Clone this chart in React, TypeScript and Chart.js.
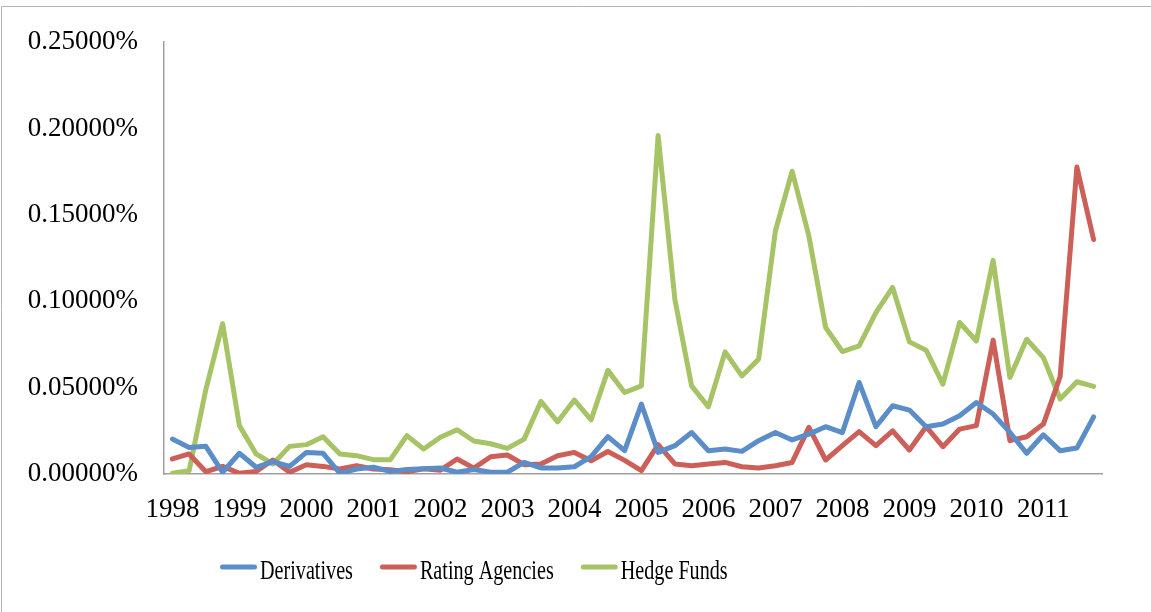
import React, { useEffect, useRef } from "react";
import { Chart, registerables } from "chart.js";

Chart.register(...registerables);

// Year tick labels; each year holds four quarterly observations.
const yearLabels = [
  "1998", "1999", "2000", "2001", "2002", "2003", "2004",
  "2005", "2006", "2007", "2008", "2009", "2010", "2011",
];

const quarterCategories = yearLabels.flatMap((y) => [`${y} Q1`, `${y} Q2`, `${y} Q3`, `${y} Q4`]);

// Share of coverage, in percent.
const derivatives = [
  0.0202, 0.0154, 0.016, 0.001, 0.012, 0.0039, 0.0071, 0.0044,
  0.0125, 0.012, 0.0004, 0.0029, 0.0039, 0.0015, 0.0026, 0.003,
  0.0035, 0.001, 0.0026, 0.001, 0.001, 0.0067, 0.0035, 0.0035,
  0.0042, 0.01, 0.0216, 0.0135, 0.0405, 0.0125, 0.0164, 0.024,
  0.0135, 0.0145, 0.0131, 0.0193, 0.024, 0.0197, 0.0231, 0.0274,
  0.024, 0.053, 0.0274, 0.0395, 0.037, 0.0274, 0.0289, 0.0337,
  0.0414, 0.0347, 0.0241, 0.012, 0.0227, 0.0135, 0.015, 0.0331,
];

const ratingAgencies = [
  0.0087, 0.0116, 0.0013, 0.0044, 0.0004, 0.0015, 0.0081, 0.001,
  0.0054, 0.0044, 0.0029, 0.0048, 0.0029, 0.0025, 0.0013, 0.003,
  0.0022, 0.0087, 0.0034, 0.01, 0.011, 0.0054, 0.0058, 0.0106,
  0.0125, 0.0077, 0.013, 0.0079, 0.0019, 0.017, 0.0058, 0.0048,
  0.0058, 0.0067, 0.0042, 0.0035, 0.0048, 0.0067, 0.027, 0.0081,
  0.0164, 0.0245, 0.0164, 0.025, 0.0139, 0.0274, 0.0158, 0.026,
  0.028, 0.0775, 0.0193, 0.0216, 0.0289, 0.0563, 0.1777, 0.1358,
];

const hedgeFunds = [
  0.0004, 0.0019, 0.049, 0.087, 0.028, 0.0116, 0.0058, 0.016,
  0.017, 0.0216, 0.0116, 0.0106, 0.0083, 0.0082, 0.0222, 0.0145,
  0.0213, 0.0256, 0.0191, 0.0175, 0.0148, 0.0202, 0.042, 0.0302,
  0.0428, 0.0314, 0.06, 0.0472, 0.051, 0.196, 0.101, 0.051,
  0.0389, 0.0707, 0.0568, 0.0665, 0.1407, 0.1753, 0.1378, 0.0848,
  0.0709, 0.0742, 0.0934, 0.108, 0.0765, 0.0717, 0.052, 0.0877,
  0.077, 0.1237, 0.0559, 0.078, 0.0674, 0.0434, 0.0534, 0.0507,
];

const seriesNames = ["Derivatives", "Rating Agencies", "Hedge Funds"];
const seriesColors = ["#5b8dc8", "#cc5f58", "#a6c466"];

const FONT = '"Liberation Serif", "Times New Roman", serif';

// Outer frame (top and left edges) plus a compact legend row below the axis.
const framePlugin = {
  id: "frameAndLegend",
  afterDraw(chart: Chart) {
    const ctx = chart.ctx;
    ctx.save();
    ctx.strokeStyle = "#b4b4b4";
    ctx.lineWidth = 1;
    ctx.beginPath();
    ctx.moveTo(1.5, chart.height);
    ctx.lineTo(1.5, 6.5);
    ctx.lineTo(chart.width, 6.5);
    ctx.stroke();

    const squeeze = 0.72;
    ctx.font = `28px ${FONT}`;
    let x = 220;
    const lineY = 567;
    chart.data.datasets.forEach((ds: any) => {
      ctx.strokeStyle = ds.borderColor;
      ctx.lineWidth = 5;
      ctx.lineCap = "round";
      ctx.beginPath();
      ctx.moveTo(x + 2.5, lineY);
      ctx.lineTo(x + 34.5, lineY);
      ctx.stroke();
      const tx = x + 40;
      const w = ctx.measureText(ds.label).width * squeeze;
      ctx.save();
      ctx.translate(tx, 579);
      ctx.scale(squeeze, 1);
      ctx.fillStyle = "#000";
      ctx.textBaseline = "alphabetic";
      ctx.textAlign = "left";
      ctx.fillText(ds.label, 0, 0);
      ctx.restore();
      x = tx + w + 27;
    });
    ctx.restore();
  },
};

export default function App() {
  const canvasRef = useRef<HTMLCanvasElement | null>(null);

  useEffect(() => {
    document.body.style.margin = "0";
    const canvas = canvasRef.current;
    if (!canvas) return;
    const series = [derivatives, ratingAgencies, hedgeFunds];
    const chart = new Chart(canvas, {
      type: "line",
      data: {
        labels: quarterCategories,
        datasets: series.map((values, i) => ({
          label: seriesNames[i],
          data: values,
          borderColor: seriesColors[i],
          backgroundColor: seriesColors[i],
          borderWidth: 5,
          pointRadius: 0,
          pointHoverRadius: 0,
          tension: 0,
          borderJoinStyle: "round" as const,
          borderCapStyle: "round" as const,
          fill: false,
        })),
      },
      options: {
        animation: false,
        responsive: false,
        devicePixelRatio: 1,
        layout: { padding: { top: 40, right: 49, bottom: 0, left: 0 } },
        plugins: {
          legend: { display: false },
          tooltip: { enabled: false },
        },
        scales: {
          x: {
            type: "category",
            offset: true,
            grid: { display: false, drawTicks: false },
            border: { display: true, color: "#a0a0a0", width: 1.5 },
            afterFit: (scale: any) => {
              scale.height = 612 - 474;
            },
            ticks: {
              autoSkip: false,
              maxRotation: 0,
              minRotation: 0,
              padding: 20,
              color: "#000",
              font: { family: FONT, size: 27 },
              callback: (_v: any, idx: number) =>
                idx % 4 === 0 ? quarterCategories[idx].slice(0, 4) : "",
            },
          },
          y: {
            min: 0,
            max: 0.25,
            grid: { display: false, drawTicks: false },
            border: { display: true, color: "#a0a0a0", width: 1.5 },
            afterFit: (scale: any) => {
              scale.width = 164;
            },
            ticks: {
              stepSize: 0.05,
              padding: 26,
              color: "#000",
              font: { family: FONT, size: 27 },
              callback: (v: any) => `${Number(v).toFixed(5)}%`,
            },
          },
        },
      },
      plugins: [framePlugin],
    });
    return () => chart.destroy();
  }, []);

  return (
    <div style={{ width: 1151, height: 612, background: "#fff" }}>
      <canvas ref={canvasRef} width={1151} height={612} />
    </div>
  );
}
